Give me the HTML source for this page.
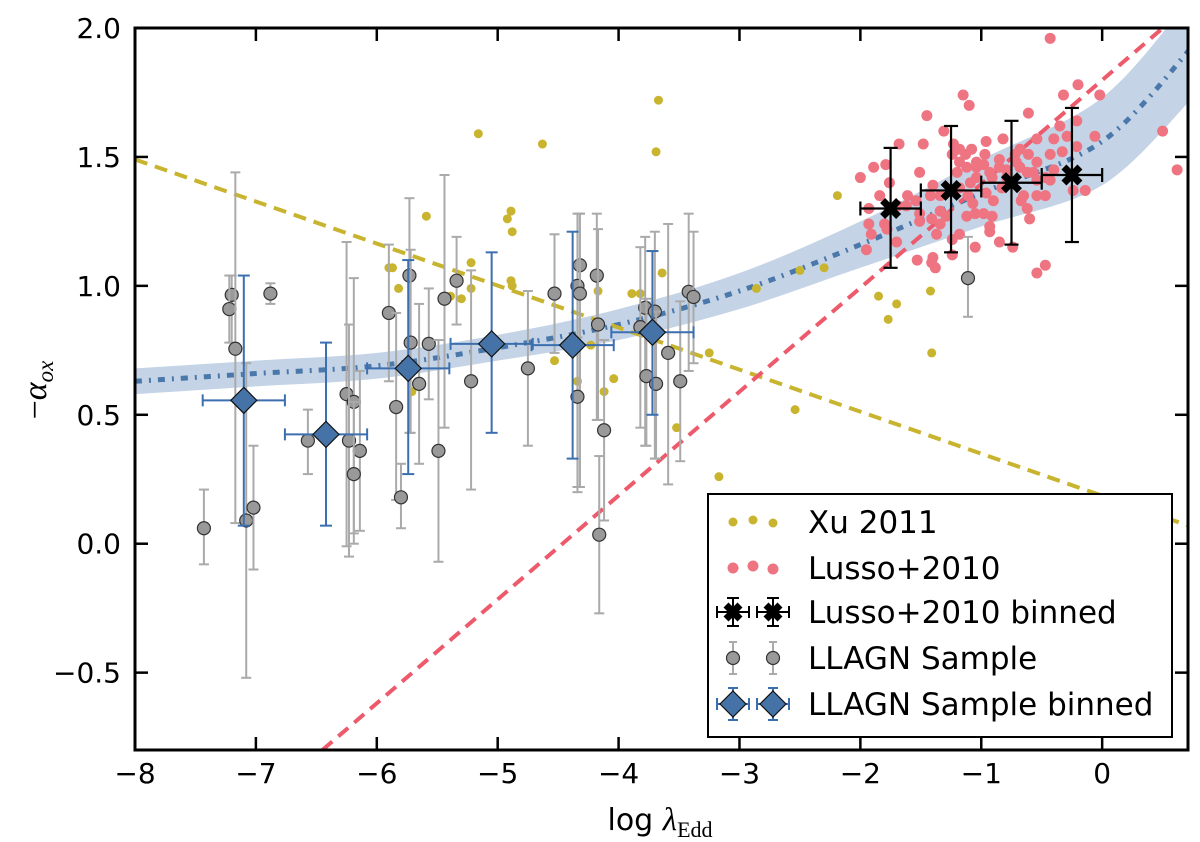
<!DOCTYPE html>
<html><head><meta charset="utf-8"><style>
html,body{margin:0;padding:0;background:#fff;}
svg{display:block;font-family:"DejaVu Sans","Liberation Sans",sans-serif;}
</style></head><body>
<svg id="chart" width="1200" height="842" viewBox="0 0 1200 842" xmlns="http://www.w3.org/2000/svg"></svg>
<script>
// ---- data ----
const xTicks = [-8,-7,-6,-5,-4,-3,-2,-1,0];
const yTicks = [-0.5,0,0.5,1.0,1.5,2.0];
const yTickLabels = ["\u22120.5","0.0","0.5","1.0","1.5","2.0"];
const xTickLabels = ["\u22128","\u22127","\u22126","\u22125","\u22124","\u22123","\u22122","\u22121","0"];

const xuX = [-3.67,-3.69,-4.63,-5.16,-5.59,-4.89,-4.92,-4.88,-5.90,-5.87,-5.82,-5.22,-5.22,-5.39,-5.30,-4.89,-4.88,-5.71,-4.53,-4.17,-4.23,-4.34,-4.12,-4.04,-3.89,-3.82,-3.64,-3.25,-3.52,-3.17,-2.86,-2.54,-2.19,-2.30,-1.70,-1.85,-1.70,-1.77,-1.42,-1.41,-2.50];
const xuY = [1.72,1.52,1.55,1.59,1.27,1.29,1.26,1.21,1.07,1.07,0.99,1.09,0.99,0.96,0.95,1.02,1.00,0.59,0.71,0.98,0.77,0.63,0.59,0.64,0.97,0.97,1.05,0.74,0.45,0.26,0.99,0.52,1.35,1.07,1.17,0.96,0.93,0.87,0.98,0.74,1.06];

const lusX = [-0.43,0.50,0.62,-0.20,-0.32,-0.02,-1.15,-1.10,-1.45,-0.61,-1.68,-1.48,-1.31,-1.23,-1.24,-1.18,-1.13,-1.08,-0.96,-0.97,-0.82,-0.68,-0.61,-0.54,-0.40,-0.35,-0.21,-0.29,-0.21,-0.06,-0.43,-0.33,-0.85,-0.71,-0.72,-1.89,-1.79,-2.00,-1.76,-1.51,-1.84,-1.93,-1.61,-1.54,-1.62,-1.42,-1.40,-1.34,-1.18,-1.20,-1.12,-1.04,-0.98,-0.93,-0.91,-1.04,-1.09,-1.18,-1.11,-1.07,-0.96,-0.98,-1.12,-1.05,-0.90,-0.83,-0.79,-0.68,-0.62,-0.54,-0.47,-0.43,-0.65,-0.67,-0.62,-0.60,-0.54,-0.47,-0.57,-0.24,-0.14,-0.40,-0.54,-1.93,-1.91,-1.80,-1.78,-1.95,-1.70,-1.53,-1.40,-1.41,-1.38,-1.51,-1.41,-1.34,-1.37,-1.18,-1.24,-1.24,-1.05,-0.91,-0.93,-0.93,-0.85,-0.74,-0.54,-0.47,-1.69,-1.51,-1.34,-1.29,-0.85,-0.79,-1.04];
const lusY = [1.96,1.60,1.45,1.78,1.74,1.74,1.74,1.70,1.66,1.67,1.55,1.55,1.60,1.55,1.51,1.53,1.51,1.53,1.56,1.51,1.57,1.53,1.51,1.57,1.57,1.62,1.64,1.58,1.54,1.58,1.51,1.52,1.49,1.48,1.51,1.46,1.47,1.42,1.40,1.44,1.35,1.30,1.35,1.33,1.31,1.35,1.39,1.35,1.48,1.44,1.46,1.46,1.47,1.44,1.42,1.42,1.40,1.38,1.35,1.32,1.36,1.28,1.27,1.28,1.33,1.38,1.42,1.46,1.44,1.41,1.42,1.41,1.35,1.33,1.30,1.26,1.35,1.35,1.44,1.37,1.37,1.45,1.48,1.24,1.20,1.24,1.22,1.14,1.17,1.10,1.11,1.09,1.07,1.25,1.26,1.24,1.20,1.20,1.18,1.12,1.15,1.27,1.23,1.21,1.17,1.15,1.05,1.08,1.31,1.28,1.29,1.27,1.46,1.45,1.48];

const lusBinX = [-1.75,-1.25,-0.75,-0.25];
const lusBinY = [1.30,1.37,1.40,1.43];
const lusBinYHi = [1.535,1.62,1.64,1.69];
const lusBinYLo = [1.07,1.13,1.16,1.17];
const lusBinXErr = [0.25,0.25,0.25,0.25];

const llX = [-7.43,-7.20,-7.22,-7.17,-6.88,-7.08,-7.02,-6.57,-6.25,-6.19,-6.23,-6.14,-6.19,-5.90,-5.84,-5.80,-5.73,-5.72,-5.65,-5.57,-5.49,-5.44,-5.34,-5.22,-4.75,-4.53,-4.32,-4.34,-4.32,-4.34,-4.18,-4.17,-4.12,-4.16,-3.78,-3.70,-3.82,-3.77,-3.69,-3.59,-3.49,-3.42,-3.38,-1.11];
const llY = [0.06,0.965,0.91,0.756,0.97,0.09,0.14,0.40,0.58,0.55,0.40,0.36,0.27,0.895,0.53,0.18,1.04,0.78,0.62,0.775,0.36,0.95,1.02,0.63,0.68,0.97,1.08,1.00,0.97,0.57,1.04,0.85,0.44,0.035,0.915,0.90,0.84,0.65,0.62,0.74,0.63,0.977,0.957,1.03];
const llYHi = [0.21,1.04,1.04,1.44,1.01,0.70,0.38,0.52,1.17,1.03,0.85,0.67,0.55,1.16,0.895,0.31,1.34,1.14,0.93,0.99,0.79,1.43,1.19,1.06,0.98,1.20,1.28,1.28,1.28,0.80,1.28,1.22,0.79,0.34,1.19,1.21,1.15,0.95,0.90,1.24,0.94,1.28,1.21,1.19];
const llYLo = [-0.08,0.78,0.78,0.08,0.93,-0.52,-0.10,0.27,-0.01,0.04,-0.05,0.05,0.0,0.63,0.17,0.06,0.43,0.43,0.31,0.56,-0.07,0.45,0.85,0.21,0.38,0.74,0.22,0.20,0.22,0.22,0.48,0.48,0.09,-0.27,0.38,0.33,0.45,0.38,0.33,0.23,0.32,0.67,0.70,0.88];

const binX = [-7.10,-6.42,-5.74,-5.05,-4.38,-3.72];
const binY = [0.556,0.424,0.68,0.775,0.77,0.82];
const binXErr = [0.34,0.34,0.34,0.34,0.34,0.34];
const binYHi = [1.04,0.78,1.10,1.13,1.21,1.135];
const binYLo = [0.07,0.07,0.27,0.43,0.33,0.50];

// fit curve (model) nodes
const fitX = [-8,-7,-6,-5,-4,-3,-2,-1,0,0.75];
const fitY = [0.63,0.66,0.69,0.76,0.85,0.98,1.16,1.36,1.56,1.93];
const fitW = [0.05,0.05,0.05,0.05,0.06,0.07,0.09,0.13,0.17,0.20];

const xuLine = [[-8,1.49],[0.75,0.064]];
const lusLine = [[-6.45,-0.8],[0.75,2.10]];

// ---- axes ----
const L=135,R=1188,T=28,B=750, XMIN=-8, XMAX=0.71, YMIN=-0.8, YMAX=2.0;
const X = v => L + (v - XMIN) * (R - L) / (XMAX - XMIN);
const Y = v => B - (v - YMIN) * (B - T) / (YMAX - YMIN);
const NS="http://www.w3.org/2000/svg";
const svg=document.getElementById('chart');
function mk(tag, attrs, parent){const e=document.createElementNS(NS,tag);for(const k in attrs)e.setAttribute(k,attrs[k]);(parent||svg).appendChild(e);return e;}

const defs=mk('defs',{});
const cp=mk('clipPath',{id:'clip'},defs);
mk('rect',{x:L,y:T,width:R-L,height:B-T},cp);
const plot=mk('g',{'clip-path':'url(#clip)'});



function smooth(pts){
  let d='M'+pts[0][0]+','+pts[0][1];
  for(let i=0;i<pts.length-1;i++){
    const p0=pts[Math.max(i-1,0)],p1=pts[i],p2=pts[i+1],p3=pts[Math.min(i+2,pts.length-1)];
    const c1=[p1[0]+(p2[0]-p0[0])/6,p1[1]+(p2[1]-p0[1])/6];
    const c2=[p2[0]-(p3[0]-p1[0])/6,p2[1]-(p3[1]-p1[1])/6];
    d+=` C${c1[0]},${c1[1]} ${c2[0]},${c2[1]} ${p2[0]},${p2[1]}`;
  }
  return d;
}
const up=fitX.map((x,i)=>[X(x),Y(fitY[i]+fitW[i])]);
const lo=fitX.map((x,i)=>[X(x),Y(fitY[i]-fitW[i])]).reverse();
const band=mk('path',{d:smooth(up)+' L'+lo[0][0]+','+lo[0][1]+smooth(lo).replace(/^M[^C]*/,' ')+'Z',fill:'#c4d4e6',stroke:'none'},plot);


const fit=mk('path',{d:smooth(fitX.map((x,i)=>[X(x),Y(fitY[i])])),fill:'none',stroke:'#4a78aa','stroke-width':5,'stroke-dasharray':'7,7,2,7'},plot);



const xl=mk('line',{x1:X(xuLine[0][0]),y1:Y(xuLine[0][1]),x2:X(xuLine[1][0]),y2:Y(xuLine[1][1]),stroke:'#c9b42f','stroke-width':4,'stroke-dasharray':'13,8'},plot);


const ll=mk('line',{x1:X(lusLine[0][0]),y1:Y(lusLine[0][1]),x2:X(lusLine[1][0]),y2:Y(lusLine[1][1]),stroke:'#ec5a6c','stroke-width':4,'stroke-dasharray':'13,8'},plot);



xuX.forEach((x,i)=>{const c=mk('circle',{cx:X(x),cy:Y(xuY[i]),r:4.5,fill:'#c9b42f'},plot);

});
lusX.forEach((x,i)=>{const c=mk('circle',{cx:X(x),cy:Y(lusY[i]),r:5.5,fill:'#ef7482'},plot);

});

function errbar(g,x,y,xe,yhi,ylo,col,w,cap){
  if(yhi!=null){mk('line',{x1:X(x),x2:X(x),y1:Y(yhi),y2:Y(ylo),stroke:col,'stroke-width':w},g);
    mk('line',{x1:X(x)-cap,x2:X(x)+cap,y1:Y(yhi),y2:Y(yhi),stroke:col,'stroke-width':w},g);
    mk('line',{x1:X(x)-cap,x2:X(x)+cap,y1:Y(ylo),y2:Y(ylo),stroke:col,'stroke-width':w},g);}
  if(xe){mk('line',{x1:X(x-xe),x2:X(x+xe),y1:Y(y),y2:Y(y),stroke:col,'stroke-width':w},g);
    mk('line',{x1:X(x-xe),x2:X(x-xe),y1:Y(y)-cap,y2:Y(y)+cap,stroke:col,'stroke-width':w},g);
    mk('line',{x1:X(x+xe),x2:X(x+xe),y1:Y(y)-cap,y2:Y(y)+cap,stroke:col,'stroke-width':w},g);}
}
llX.forEach((x,i)=>{const g=mk('g',{},plot);


errbar(g,x,llY[i],0,llYHi[i],llYLo[i],'#aaaaaa',2,5);
mk('circle',{cx:X(x),cy:Y(llY[i]),r:6.5,fill:'#999999',stroke:'#333','stroke-width':1.2},g);});
binX.forEach((x,i)=>{const g=mk('g',{},plot);


errbar(g,x,binY[i],binXErr[i],binYHi[i],binYLo[i],'#3c6fb0',2,6);
const cx=X(x),cy=Y(binY[i]),s=13;
mk('polygon',{points:`${cx},${cy-s} ${cx+s},${cy} ${cx},${cy+s} ${cx-s},${cy}`,fill:'#4573a7',stroke:'#111','stroke-width':1.2},g);});
function xMark(g,cx,cy,s){mk('path',{d:`M${cx-s},${cy-s}L${cx+s},${cy+s}M${cx-s},${cy+s}L${cx+s},${cy-s}`,stroke:'#000','stroke-width':7},g);}
lusBinX.forEach((x,i)=>{const g=mk('g',{},plot);


errbar(g,x,lusBinY[i],lusBinXErr[i],lusBinYHi[i],lusBinYLo[i],'#000',2.2,7);
xMark(g,X(x),Y(lusBinY[i]),8);});

const frame=mk('rect',{x:L,y:T,width:R-L,height:B-T,fill:'none',stroke:'#000','stroke-width':3});


xTicks.forEach((v,i)=>{
  mk('line',{x1:X(v),x2:X(v),y1:B,y2:B-13,stroke:'#000','stroke-width':2.5});
  mk('line',{x1:X(v),x2:X(v),y1:T,y2:T+13,stroke:'#000','stroke-width':2.5});
  const t=mk('text',{x:X(v),y:B+33,'text-anchor':'middle','font-size':28});t.textContent=xTickLabels[i];
  
  
});
yTicks.forEach((v,i)=>{
  mk('line',{x1:L,x2:L+13,y1:Y(v),y2:Y(v),stroke:'#000','stroke-width':2.5});
  mk('line',{x1:R,x2:R-13,y1:Y(v),y2:Y(v),stroke:'#000','stroke-width':2.5});
  const t=mk('text',{x:L-14,y:Y(v)+10,'text-anchor':'end','font-size':28});t.textContent=yTickLabels[i];
  
  
});
const lg=mk('g',{});


mk('rect',{x:708,y:494,width:464,height:243,fill:'#fff',stroke:'#000','stroke-width':2},lg);
const ly=[522,568,612,658,704];
const names=['Xu 2011','Lusso+2010','Lusso+2010 binned','LLAGN Sample','LLAGN Sample binned'];
[[733,ly[0]],[753,ly[0]-2],[773,ly[0]+1]].forEach(p=>mk('circle',{cx:p[0],cy:p[1],r:4.5,fill:'#c9b42f'},lg));
[[733,ly[1]],[753,ly[1]-2],[773,ly[1]+1]].forEach(p=>mk('circle',{cx:p[0],cy:p[1],r:5.5,fill:'#ef7482'},lg));
[733,773].forEach(cx=>{const cy=ly[2];
  mk('path',{d:`M${cx-16},${cy}H${cx+16}M${cx-16},${cy-6}V${cy+6}M${cx+16},${cy-6}V${cy+6}M${cx},${cy-14}V${cy+14}M${cx-6},${cy-14}H${cx+6}M${cx-6},${cy+14}H${cx+6}`,stroke:'#000','stroke-width':2,fill:'none'},lg);
  xMark(lg,cx,cy,7);});
[733,773].forEach(cx=>{const cy=ly[3];
  mk('path',{d:`M${cx},${cy-16}V${cy+16}M${cx-4},${cy-16}H${cx+4}M${cx-4},${cy+16}H${cx+4}`,stroke:'#aaa','stroke-width':2},lg);
  mk('circle',{cx:cx,cy:cy,r:6.5,fill:'#999',stroke:'#333','stroke-width':1.2},lg);});
[733,773].forEach(cx=>{const cy=ly[4];
  mk('path',{d:`M${cx-16},${cy}H${cx+16}M${cx-16},${cy-6}V${cy+6}M${cx+16},${cy-6}V${cy+6}M${cx},${cy-16}V${cy+16}M${cx-5},${cy-16}H${cx+5}M${cx-5},${cy+16}H${cx+5}`,stroke:'#3c6fb0','stroke-width':2,fill:'none'},lg);
  mk('polygon',{points:`${cx},${cy-13} ${cx+13},${cy} ${cx},${cy+13} ${cx-13},${cy}`,fill:'#4573a7',stroke:'#111','stroke-width':1.2},lg);});
names.forEach((n,i)=>{const t=mk('text',{x:808,y:ly[i]+11,'font-size':31},lg);t.textContent=n;
  
  });

const xt=mk('text',{x:660,y:830,'text-anchor':'middle','font-size':30});
xt.innerHTML='log <tspan font-family="Liberation Serif,serif" font-style="italic" font-size="33">λ</tspan><tspan font-family="Liberation Serif,serif" font-size="22" dy="7">Edd</tspan>';


const yt=mk('text',{x:0,y:0,'text-anchor':'middle','font-size':34,'font-family':'Liberation Serif,serif',transform:'translate(46,390) rotate(-90)'});
yt.innerHTML='\u2212<tspan font-style="italic">α</tspan><tspan font-style="italic" font-size="23" dy="7">ox</tspan>';


</script>
</body></html>
